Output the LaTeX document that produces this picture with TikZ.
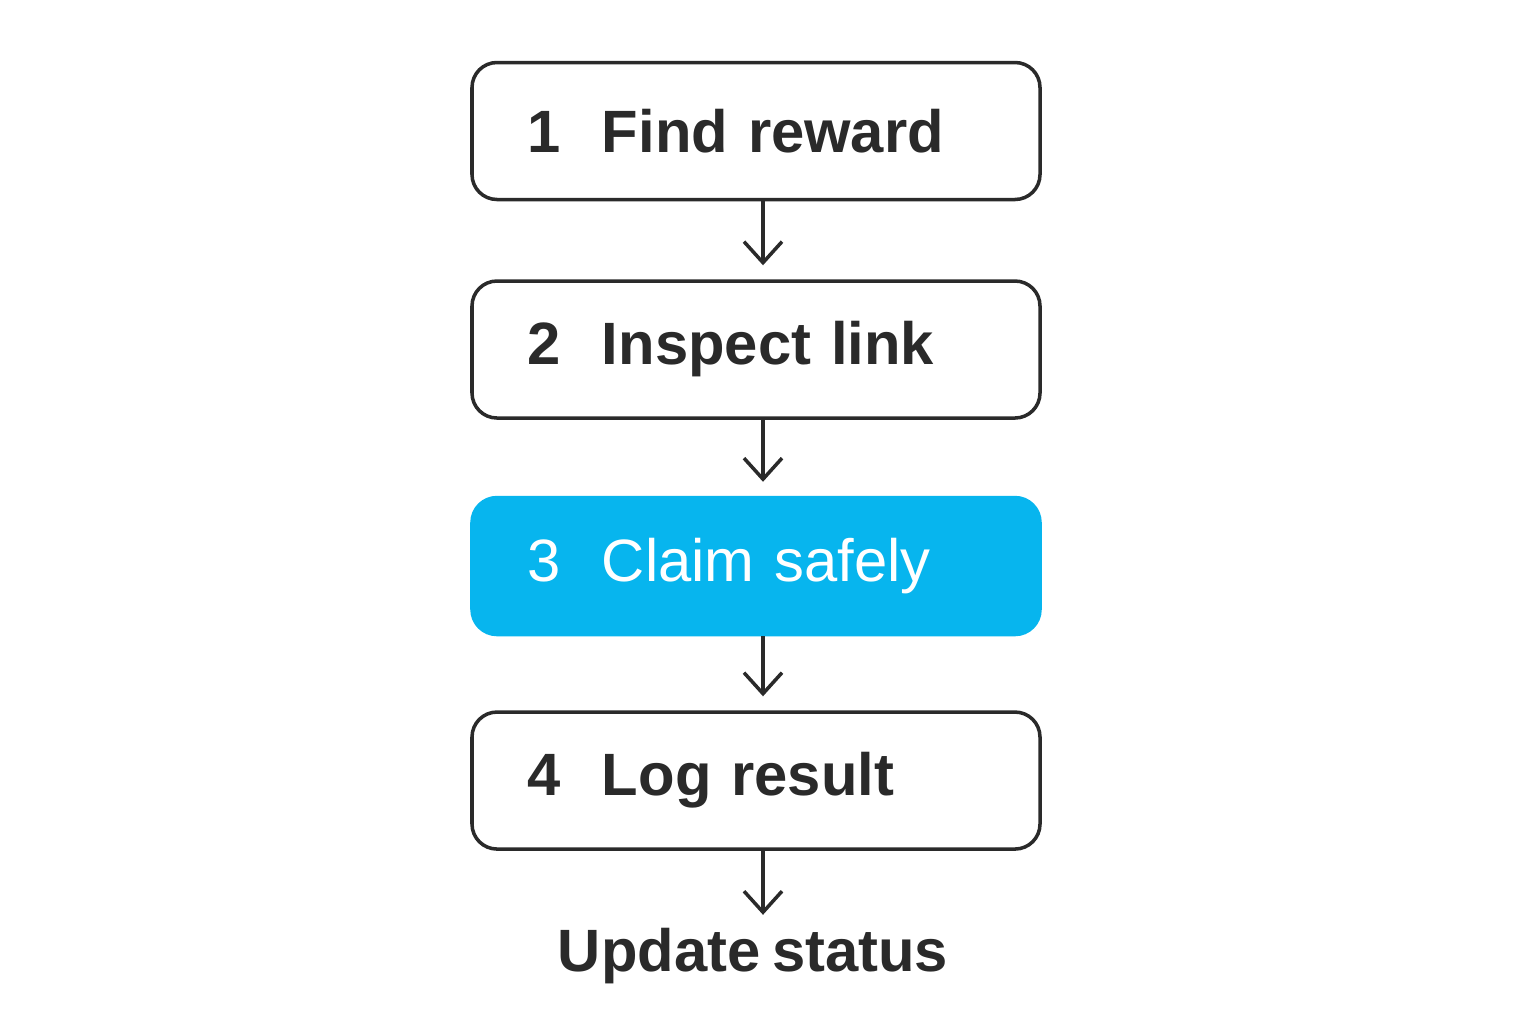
\documentclass[tikz,border=0pt]{standalone}
\usepackage{fontspec}
\setmainfont{Liberation Sans}[BoldFeatures={WordSpace=0.7}]
\usepackage{tikz}
\usetikzlibrary{positioning, arrows.meta}
\usepackage{xcolor}
\definecolor{flowInk}{HTML}{2A2A2A}
\definecolor{flowBlue}{HTML}{07B5EE}
\tikzstyle{stepbox} = [%
  rectangle,
  rounded corners=0.25cm,
  draw=flowInk,
  line width=1pt,
  minimum width=5.68cm,
  minimum height=1.37cm,
  text width=4.58cm,
  inner xsep=0.55cm,
  align=left,
  text=flowInk,
  font=\fontsize{17pt}{20pt}\selectfont\bfseries
]
\newcommand{\stepno}[1]{\makebox[0.75cm][l]{#1}}

\begin{document}
\begin{tikzpicture}[%
  flowarrow/.style={%
    -{Straight Barb[length=0.21cm,width=0.38cm,line width=1pt]},
    draw=flowInk,
    line width=1pt
  },
  current/.style={%
    fill=flowBlue,
    draw=flowBlue,
    text=white,
    font=\fontsize{17pt}{20pt}\selectfont
  },
  endlabel/.style={%
    inner sep=0pt,
    text=flowInk,
    font=\fontsize{17pt}{20pt}\selectfont\bfseries
  }
]
  \useasboundingbox (0,0) rectangle (15.36,-10.24);

  % Steps
  \node[stepbox] (S1) at (7.56,-1.31) {\stepno{1}Find reward};
  \node[stepbox,below=0.78cm of S1] (S2) {\stepno{2}Inspect link};
  \node[stepbox,current,below=0.76cm of S2] (S3) {\stepno{3}Claim safely};
  \node[stepbox,below=0.74cm of S3] (S4) {\stepno{4}Log result};
  \node[endlabel,below=0.77cm of S4,xshift=-0.03cm] (U) {Update status};

  % Arrows
  \draw[flowarrow] ([xshift=0.07cm]S1.south) -- ([xshift=0.07cm,yshift=0.14cm]S2.north);
  \draw[flowarrow] ([xshift=0.07cm]S2.south) -- ([xshift=0.07cm,yshift=0.14cm]S3.north);
  \draw[flowarrow] ([xshift=0.07cm]S3.south) -- ([xshift=0.07cm,yshift=0.14cm]S4.north);
  \draw[flowarrow] ([xshift=0.07cm]S4.south) -- ([xshift=0.1cm,yshift=0.13cm]U.north);

\end{tikzpicture}
\end{document}
